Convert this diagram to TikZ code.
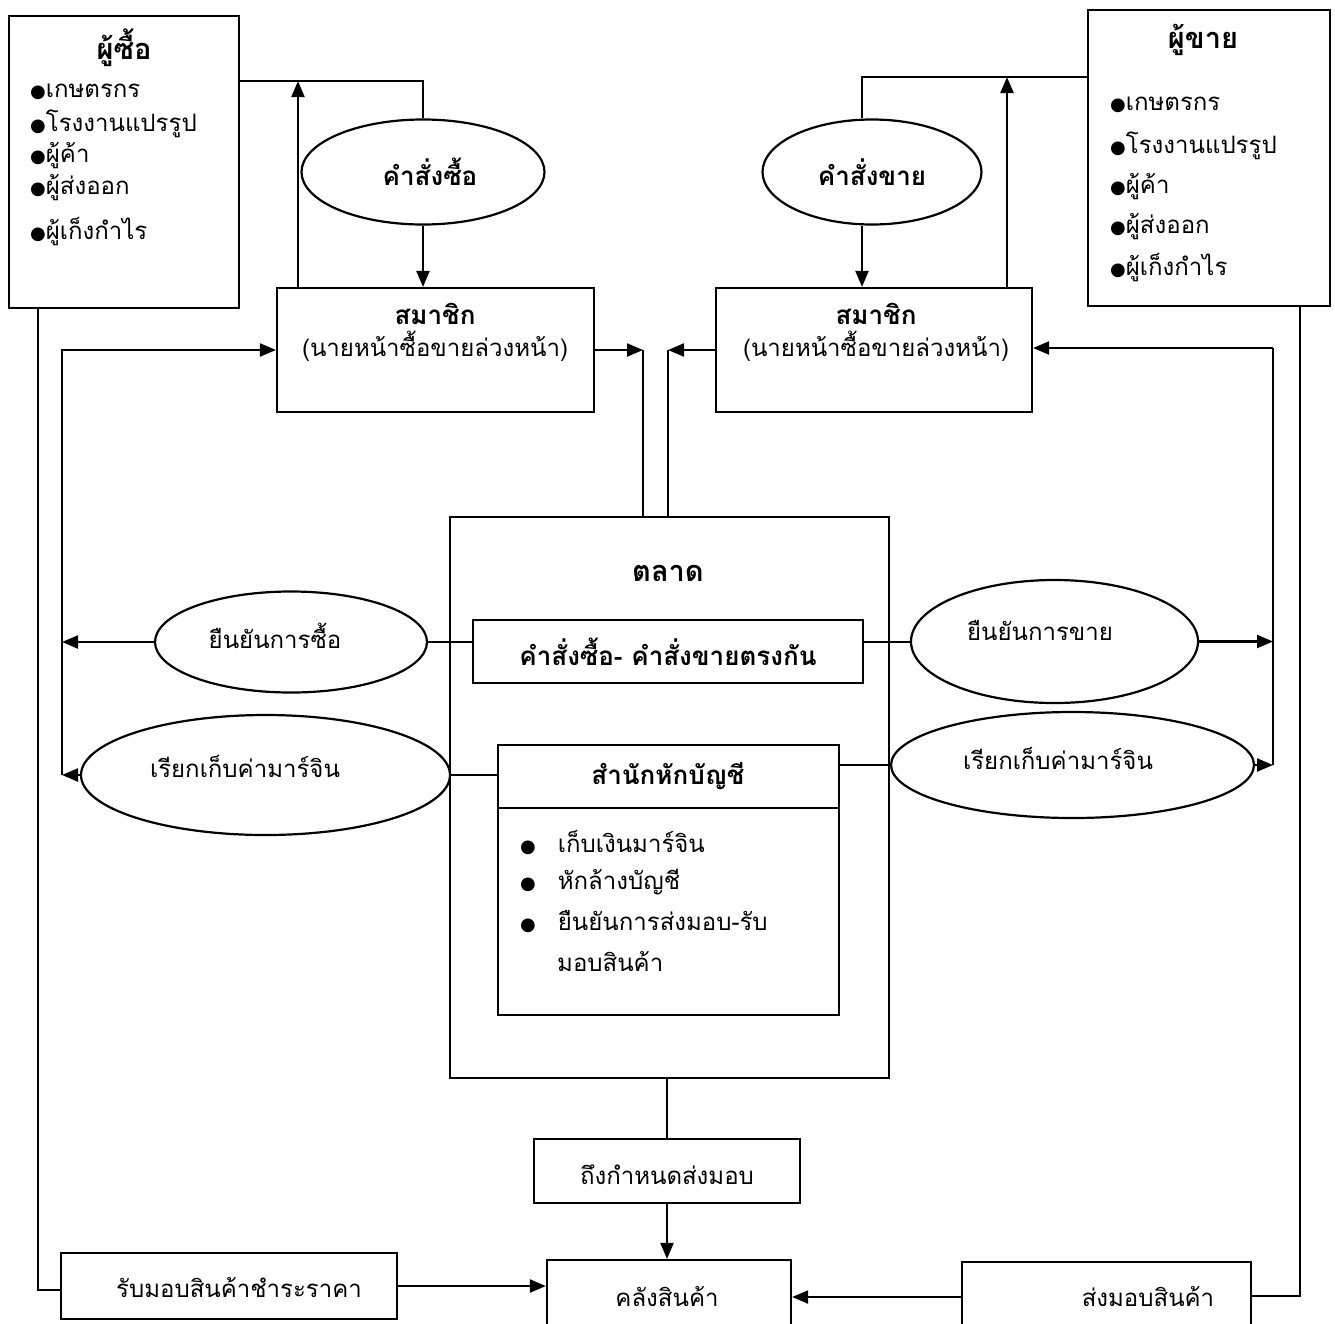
\documentclass[tikz,border=0pt]{standalone}
\usepackage{fontspec}
\setmainfont[Script=Thai]{Loma}
\newfontfamily\dvs{DejaVu Sans}
\usetikzlibrary{arrows.meta,shapes.geometric}
\newcommand{\bul}{{\dvs\fontsize{18}{18}\selectfont ●}}
\begin{document}
\begin{tikzpicture}[x=1pt,y=-1pt,
  ln/.style={line width=2.2pt},
  arr/.style={line width=2.2pt,-{Triangle[length=16pt,width=13pt]}},
  box/.style={draw,line width=2.2pt,rectangle,inner sep=0pt},
  ell/.style={draw,line width=2.2pt,ellipse,inner sep=0pt},
  txt/.style={inner sep=0pt,font=\fontsize{24}{32}\selectfont},
  btxt/.style={inner sep=0pt,font=\fontsize{26}{32}\selectfont\bfseries},
  ttl/.style={inner sep=0pt,font=\fontsize{29}{32}\selectfont\bfseries},
  item/.style={inner sep=0pt,anchor=west,font=\fontsize{24}{32}\selectfont}]
\useasboundingbox (0,0) rectangle (1335,1323);
\clip (0,0) rectangle (1335,1323);
\fill[white] (0,0) rectangle (1335,1323);

% buyer
\node[box,minimum width=230,minimum height=292] (buyer) at (124,162) {};
\node[ttl] (buyert) at (124,48) {ผู้ซื้อ};
\node[item] (b1) at (30,92) {\bul เกษตรกร};
\node[item] (b2) at (30,124) {\bul โรงงานแปรรูป};
\node[item] (b3) at (30,156) {\bul ผู้ค้า};
\node[item] (b4) at (30,188) {\bul ผู้ส่งออก};
\node[item] (b5) at (30,232) {\bul ผู้เก็งกำไร};

% seller
\node[box,minimum width=242,minimum height=296] (seller) at (1209,158) {};
\node[ttl] (sellert) at (1203,40) {ผู้ขาย};
\node[item] (s1) at (1110,105) {\bul เกษตรกร};
\node[item] (s2) at (1110,146) {\bul โรงงานแปรรูป};
\node[item] (s3) at (1110,187) {\bul ผู้ค้า};
\node[item] (s4) at (1110,227) {\bul ผู้ส่งออก};
\node[item] (s5) at (1110,268) {\bul ผู้เก็งกำไร};

% order ellipses
\node[ell,minimum width=243,minimum height=105] (obuy) at (423,172) {};
\node[btxt] (obuyt) at (430,172) {คำสั่งซื้อ};
\node[ell,minimum width=219,minimum height=105] (osell) at (872,172) {};
\node[btxt] (osellt) at (872,172) {คำสั่งขาย};

% members
\node[box,minimum width=317,minimum height=124] (mbuy) at (435.5,350) {};
\node[txt,align=center] (mbuyt) at (435,332) {\textbf{\fontsize{26}{32}\selectfont สมาชิก}\\(นายหน้าซื้อขายล่วงหน้า)};
\node[box,minimum width=316,minimum height=124] (msell) at (874,350) {};
\node[txt,align=center] (msellt) at (876,332) {\textbf{\fontsize{26}{32}\selectfont สมาชิก}\\(นายหน้าซื้อขายล่วงหน้า)};

% market
\node[box,minimum width=439,minimum height=561] (market) at (669.5,797.5) {};
\node[ttl] (markett) at (668,573) {ตลาด};
\node[box,minimum width=390,minimum height=63] (match) at (668,651.5) {};
\node[btxt] (matcht) at (668,652) {คำสั่งซื้อ- คำสั่งขายตรงกัน};
\node[box,minimum width=341,minimum height=270] (clear) at (668.5,880) {};
\draw[ln] (clear.west |- 0,808) -- (clear.east |- 0,808);
\node[btxt] (cleart) at (668,776) {สำนักหักบัญชี};
\node[item] (c1) at (520,842) {\bul\hspace{22pt}เก็บเงินมาร์จิน};
\node[item] (c2) at (520,882) {\bul\hspace{22pt}หักล้างบัญชี};
\node[item] (c3) at (520,922) {\bul\hspace{22pt}ยืนยันการส่งมอบ-รับ};
\node[item] (c4) at (557,962) {มอบสินค้า};

% confirmation ellipses
\node[ell,minimum width=272,minimum height=101] (cbuy) at (291,642) {};
\node[txt] (cbuyt) at (275,636) {ยืนยันการซื้อ};
\node[ell,minimum width=369,minimum height=120] (mgl) at (265.5,775) {};
\node[txt] (mglt) at (245,766) {เรียกเก็บค่ามาร์จิน};
\node[ell,minimum width=287,minimum height=123] (csell) at (1054.5,641.5) {};
\node[txt] (csellt) at (1040,630) {ยืนยันการขาย};
\node[ell,minimum width=363,minimum height=106] (mgr) at (1072.5,765) {};
\node[txt] (mgrt) at (1058,758) {เรียกเก็บค่ามาร์จิน};

% bottom boxes
\node[box,minimum width=266,minimum height=64] (due) at (667,1171) {};
\node[txt] (duet) at (667,1175) {ถึงกำหนดส่งมอบ};
\node[box,minimum width=244,minimum height=80] (wh) at (669,1300) {};
\node[txt] (wht) at (667,1297) {คลังสินค้า};
\node[box,minimum width=336,minimum height=66] (recv) at (229,1286) {};
\node[txt] (recvt) at (239,1288) {รับมอบสินค้าชำระราคา};
\node[box,minimum width=289,minimum height=80] (deliv) at (1106.5,1302) {};
\node[txt] (delivt) at (1148,1297) {ส่งมอบสินค้า};

% coordinates
\coordinate (tb) at (423,81);
\coordinate (ub) at (298,81);
\coordinate (ts) at (862,77);
\coordinate (us) at (1007,77);
\coordinate (lo) at (62,350);
\coordinate (ro) at (1273,348);
\coordinate (ml) at (643,350);
\coordinate (mr) at (668,350);
\coordinate (bl) at (38,1290);
\coordinate (sr) at (1300,1296);

% top connectors
\draw[ln] (buyer.east |- tb) -- (tb) -- (obuy.north);
\draw[arr] (obuy.south) -- (mbuy.north -| obuy.south);
\draw[arr] (mbuy.north -| ub) -- (ub);
\draw[ln] (seller.west |- ts) -- (ts) -- (osell.north -| ts);
\draw[arr] (osell.south -| ts) -- (msell.north -| ts);
\draw[arr] (msell.north -| us) -- (us);

% member to market
\draw[arr] (mbuy.east |- ml) -- (ml);
\draw[ln] (ml) -- (market.north -| ml);
\draw[arr] (msell.west |- mr) -- (mr);
\draw[ln] (mr) -- (market.north -| mr);

% left outer loop
\draw[arr] (lo |- cbuy.west) -- (lo) -- (mbuy.west |- lo);
\draw[ln] (lo |- mgl.west) -- (lo |- cbuy.west);
\draw[arr] (cbuy.west) -- (lo |- cbuy.west);
\draw[arr] (mgl.west) -- (lo |- mgl.west);
% right outer loop
\draw[ln] (ro |- mgr.east) -- (ro);
\draw[arr] (ro) -- (msell.east |- ro);
\draw[arr] (csell.east) -- (ro |- csell.east);
\draw[arr] (mgr.east) -- (ro |- mgr.east);

% inner links
\draw[ln] (match.west |- cbuy.east) -- (cbuy.east);
\draw[ln] (match.east |- cbuy.east) -- (csell.west |- cbuy.east);
\draw[ln] (clear.west |- mgl.east) -- (mgl.east);
\draw[ln] (clear.east |- mgr.west) -- (mgr.west);

% bottom
\draw[ln] (market.south -| due.north) -- (due.north);
\draw[arr] (due.south) -- (wh.north -| due.south);
\draw[ln] (buyer.south -| bl) -- (bl) -- (recv.west |- bl);
\draw[arr] (recv.east) -- (wh.west |- recv.east);
\draw[ln] (seller.south -| sr) -- (sr) -- (deliv.east |- sr);
\draw[arr] (deliv.west |- wht) -- (wh.east |- wht);
\end{tikzpicture}
\end{document}
